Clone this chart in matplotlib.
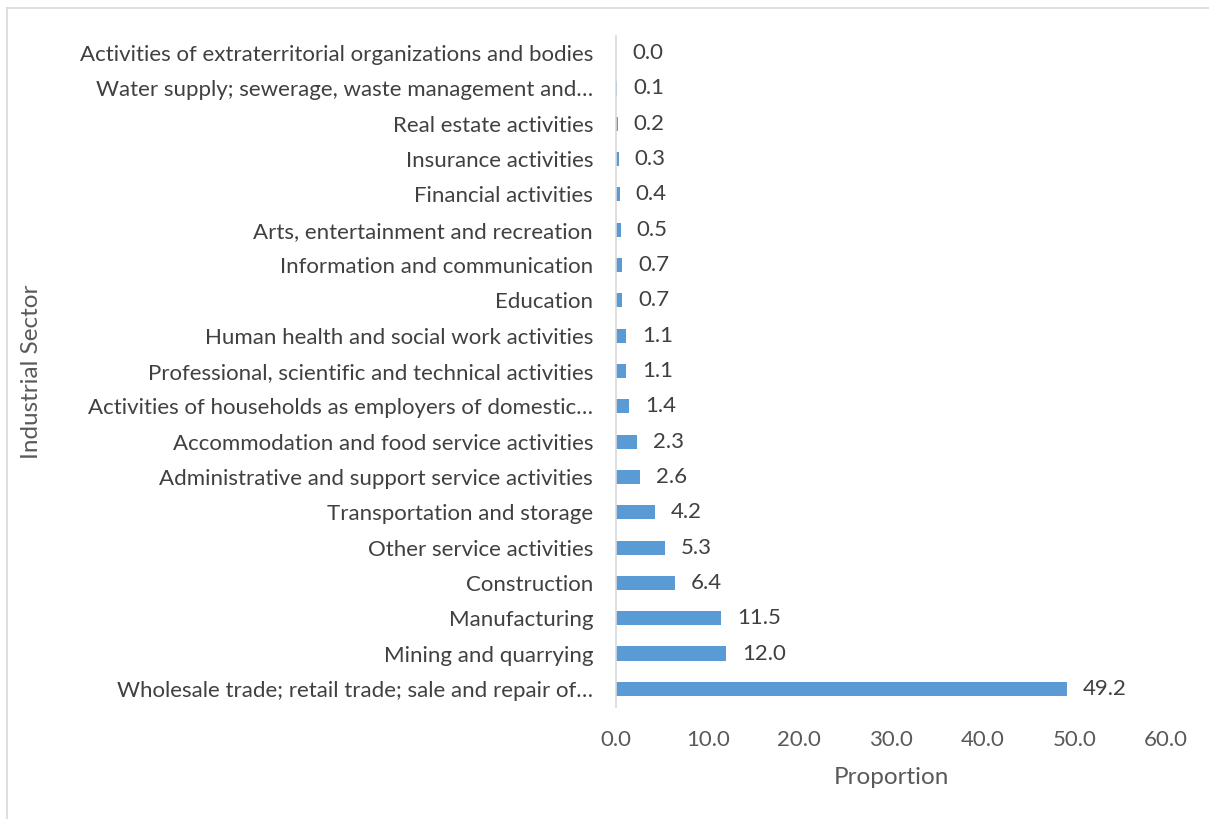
import matplotlib
matplotlib.use("Agg")
import matplotlib.pyplot as plt
from matplotlib.lines import Line2D
import numpy as np

plt.rcParams['font.family'] = ['Lato', 'DejaVu Sans']

# sectors, top of chart first
sectors = [
    "Activities of extraterritorial organizations and bodies",
    "Water supply; sewerage, waste management and\u2026",
    "Real estate activities",
    "Insurance activities",
    "Financial activities",
    "Arts, entertainment and recreation",
    "Information and communication",
    "Education",
    "Human health and social work activities",
    "Professional, scientific and technical activities",
    "Activities of households as employers of domestic\u2026",
    "Accommodation and food service activities",
    "Administrative and support service activities",
    "Transportation and storage",
    "Other service activities",
    "Construction",
    "Manufacturing",
    "Mining and quarrying",
    "Wholesale trade; retail trade; sale and repair of\u2026",
]
proportion = [0.0, 0.1, 0.2, 0.3, 0.4, 0.5, 0.7, 0.7, 1.1, 1.1, 1.4,
              2.3, 2.6, 4.2, 5.3, 6.4, 11.5, 12.0, 49.2]
xticks = [0, 10, 20, 30, 40, 50, 60]

fig = plt.figure(figsize=(12.09, 8.19), dpi=100)
ax = fig.add_axes([616 / 1209, 1 - 706.5 / 819, 550 / 1209, 671 / 819])

ypos = np.arange(len(sectors))[::-1]
ax.barh(ypos, proportion, height=0.4, color="#5B9BD5")

for y, v in zip(ypos, proportion):
    ax.annotate(f"{v:.1f}", (v, y), xytext=(11.5, 0), textcoords="offset points",
                ha="left", va="center", fontsize=16, color="#404040")

ax.set_xlim(0, 60)
ax.set_ylim(-0.5, len(sectors) - 0.5)
ax.set_yticks(ypos)
ax.set_yticklabels(sectors, fontsize=16, color="#404040")
ax.set_xticks(xticks)
ax.set_xticklabels([f"{t:.1f}" for t in xticks], fontsize=16, color="#595959")
ax.tick_params(axis="both", length=0)
ax.tick_params(axis="y", pad=16.5)
ax.tick_params(axis="x", pad=17)

for s in ["top", "right", "bottom"]:
    ax.spines[s].set_visible(False)
ax.spines["left"].set_color("#D9D9D9")
ax.spines["left"].set_linewidth(1.2)

ax.set_xlabel("Proportion", fontsize=17.5, color="#595959", labelpad=12)
fig.text(32 / 1209, 1 - 372 / 819, "Industrial Sector", rotation=90,
         ha="center", va="center", fontsize=17.5, color="#595959")

# chart area border (continues past right and bottom edges)
fig.add_artist(Line2D([7 / 1209, 1], [1 - 7.5 / 819] * 2, color="#D9D9D9", lw=1.2))
fig.add_artist(Line2D([7 / 1209] * 2, [0, 1 - 7.5 / 819], color="#D9D9D9", lw=1.2))

fig.savefig("out.png", dpi=100)
